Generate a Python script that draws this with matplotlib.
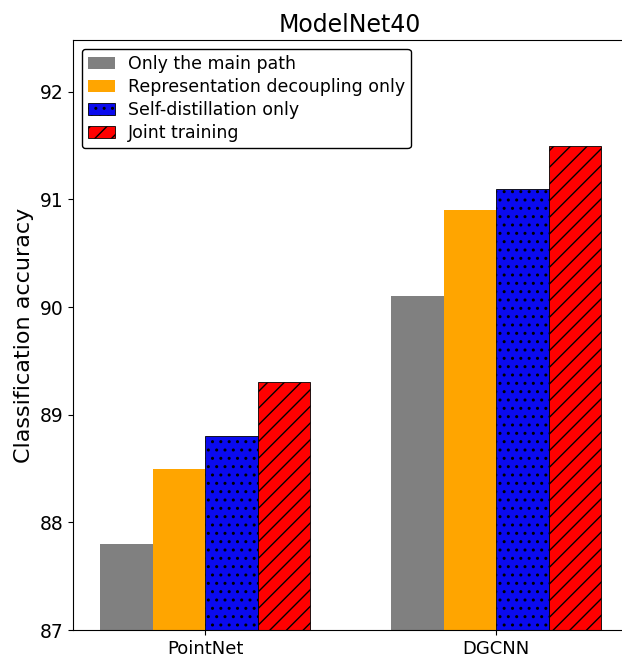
import numpy as np
import matplotlib
matplotlib.use("Agg")
import matplotlib.pyplot as plt

# data
models = ["PointNet", "DGCNN"]
labels = ["Only the main path", "Representation decoupling only",
          "Self-distillation only", "Joint training"]
main_path = [87.8, 90.1]
decoupling = [88.5, 90.9]
self_distill = [88.8, 91.1]
joint = [89.3, 91.5]

series = [main_path, decoupling, self_distill, joint]
colors = ["gray", "orange", "#0a0aee", "red"]
hatches = [None, None, "..", "//"]
edges = ["none", "none", "black", "black"]

fig = plt.figure(figsize=(6.22, 6.63), dpi=100)
# right edge runs past the canvas, like the cropped reference
ax = fig.add_axes([73 / 622, 33 / 663, 553 / 622, 590 / 663])

x = np.arange(len(models))
w = 0.18
offsets = [-1.5, -0.5, 0.5, 1.5]
for vals, lab, c, h, ec, off in zip(series, labels, colors, hatches, edges, offsets):
    ax.bar(x + off * w, vals, w, label=lab, color=c, hatch=h,
           edgecolor=ec, linewidth=0.6)

ax.set_ylim(87, 92.48)
ax.set_xlim(-0.454, 1.446)
ax.set_xticks(x)
ax.set_xticklabels(models, fontsize=13)
ax.set_yticks([87, 88, 89, 90, 91, 92])
ax.tick_params(axis="y", labelsize=13.5)
ax.set_ylabel("Classification accuracy", fontsize=16)
ax.set_title("ModelNet40", fontsize=17)
ax.legend(loc="upper left", fontsize=12.5, frameon=True, fancybox=True,
          edgecolor="black", framealpha=1, handlelength=1.55,
          handletextpad=0.75, labelspacing=0.3, borderpad=0.35,
          borderaxespad=0.5)

fig.savefig("out.png", dpi=100)
